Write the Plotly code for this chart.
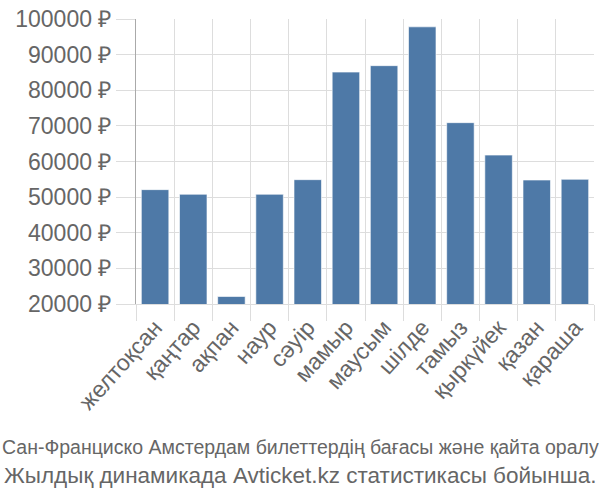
import plotly.graph_objects as go

months = ["желтоқсан", "қаңтар", "ақпан", "наур", "сәуір", "мамыр",
          "маусым", "шілде", "тамыз", "қыркүйек", "қазан", "қараша"]
prices = [52100, 50800, 22100, 50800, 54900, 85100,
          86900, 97800, 70900, 61800, 54800, 55000]
y_ticks = [20000, 30000, 40000, 50000, 60000, 70000, 80000, 90000, 100000]
y_labels = [f"{v} ₽" for v in y_ticks]
title_lines = ["Сан-Франциско Амстердам билеттердің бағасы және қайта оралу",
               "Жылдық динамикада Avticket.kz статистикасы бойынша."]

L, R = 136, 6
plot_w = 600 - L - R
page_center = (300 - L) / plot_w

fig = go.Figure()
fig.add_trace(go.Bar(
    x=months, y=prices,
    marker=dict(color="#4e79a7", line=dict(color="rgba(255,255,255,0.6)", width=1)),
    width=0.72,
))

fig.update_layout(
    width=600, height=500,
    margin=dict(l=L, r=R, t=14, b=196),
    paper_bgcolor="white", plot_bgcolor="white",
    showlegend=False,
    font=dict(family="Liberation Sans, Arial, sans-serif", color="#666666", size=20),
)
fig.update_xaxes(
    type="category", tickson="boundaries", tickangle=-48,
    showgrid=True, gridcolor="#dddddd", gridwidth=1,
    ticks="outside", ticklen=16, tickcolor="#dddddd",
    showline=True, linecolor="#dddddd",
    tickfont=dict(size=23, color="#666666"),
)
fig.update_yaxes(
    range=[20000, 100000], tickvals=y_ticks, ticktext=y_labels,
    showgrid=True, gridcolor="#dddddd", gridwidth=1,
    ticks="outside", ticklen=19, tickcolor="#dddddd",
    showline=True, linecolor="#aaaaaa", linewidth=1,
    zeroline=False,
    tickfont=dict(size=23, color="#666666"),
)
fig.add_annotation(text=title_lines[0], xref="paper", yref="paper",
                   x=page_center, y=0, xanchor="center", yanchor="middle",
                   yshift=-143, showarrow=False,
                   font=dict(family="Liberation Sans, sans-serif", size=19.5, color="#666666"))
fig.add_annotation(text=title_lines[1], xref="paper", yref="paper",
                   x=page_center, y=0, xanchor="center", yanchor="middle",
                   yshift=-171, showarrow=False,
                   font=dict(family="Liberation Sans, sans-serif", size=22.5, color="#666666"))
fig.write_html("out.html")
